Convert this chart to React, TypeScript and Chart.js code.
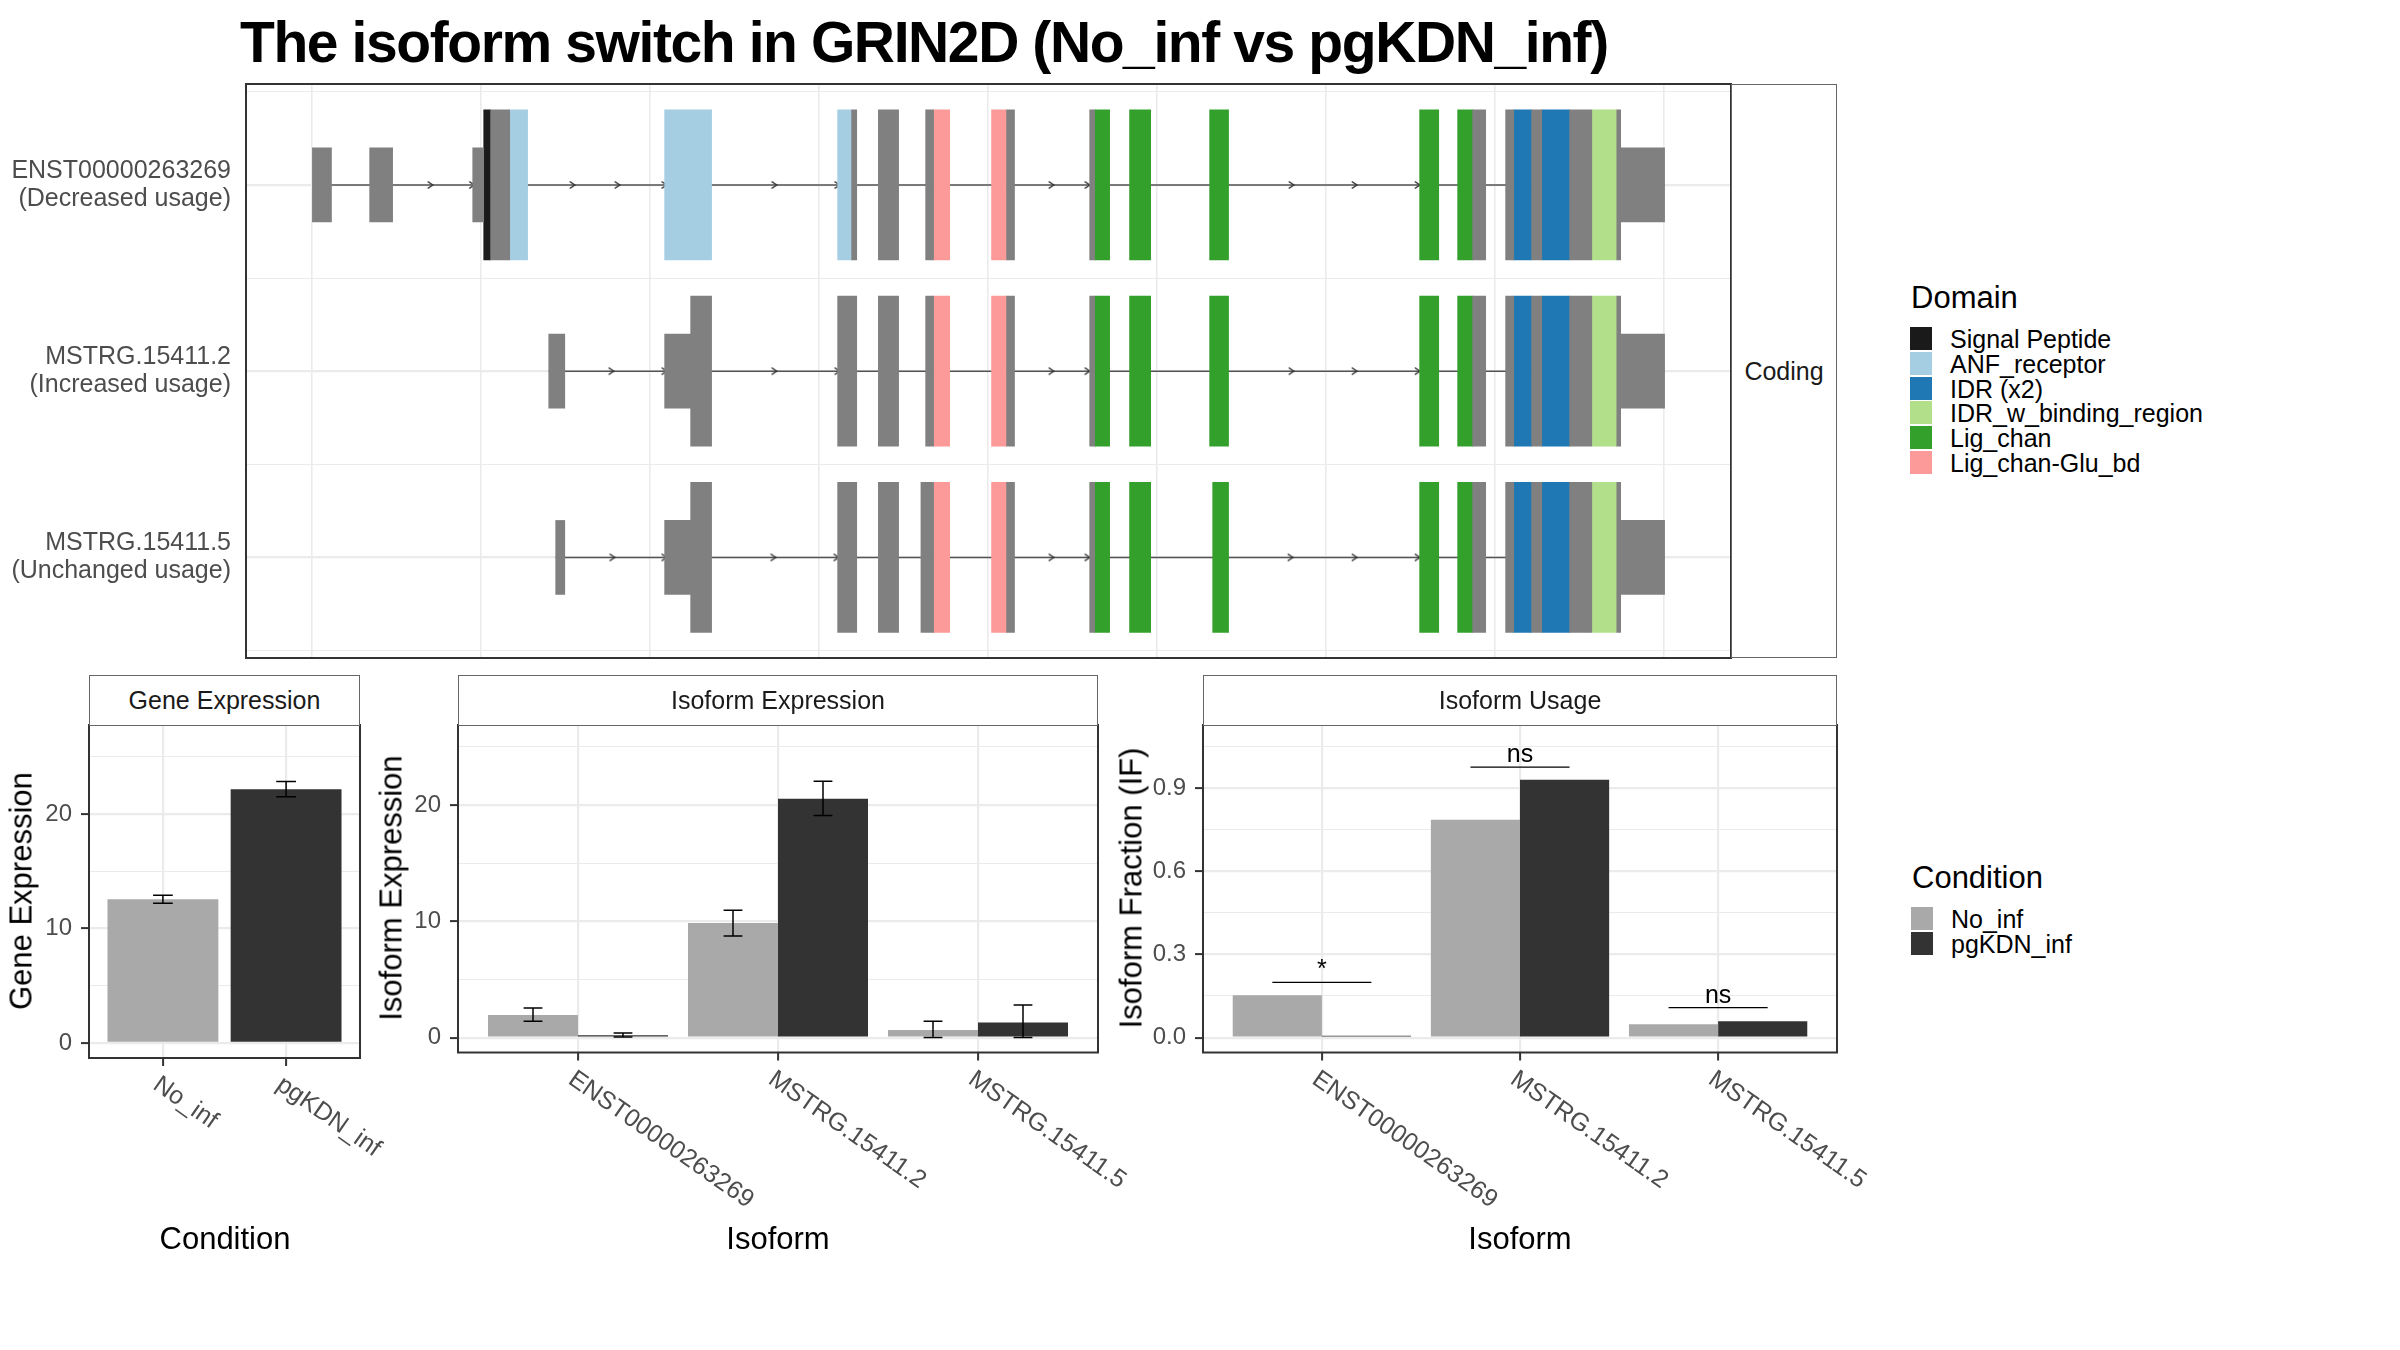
import React, { useEffect, useRef } from 'react';
import { Chart, registerables } from 'chart.js';

Chart.register(...registerables);

const FONT = "'Liberation Sans', Arial, Helvetica, sans-serif";
Chart.defaults.font.family = FONT;

// ---------------- Transcript structure (rescaled genomic coordinates) ----------------
const TX_IDS = ['ENST00000263269', 'MSTRG.15411.2', 'MSTRG.15411.5'];
const TX_NOTES = ['(Decreased usage)', '(Increased usage)', '(Unchanged usage)'];
const TX_ROWS = [1, 2, 3];

const UTR_SEGMENTS = [
  [[0.03, 1.16], [3.42, 4.78], [9.52, 10.17], [77.47, 80.07]],
  [[14.02, 14.97], [20.88, 22.42], [77.47, 80.07]],
  [[14.43, 14.97], [20.88, 22.42], [77.47, 80.07]],
];
const CDS_SEGMENTS = [
  [[10.58, 11.71], [31.95, 32.25], [33.53, 34.73], [36.33, 36.8], [41.12, 41.59], [46.04, 46.33], [68.71, 69.48], [70.66, 71.14], [72.2, 72.8], [74.45, 75.76], [77.24, 77.47]],
  [[22.42, 23.66], [31.12, 32.25], [33.53, 34.73], [36.33, 36.8], [41.12, 41.59], [46.04, 46.33], [68.71, 69.48], [70.66, 71.14], [72.2, 72.8], [74.45, 75.76], [77.24, 77.47]],
  [[22.42, 23.66], [31.12, 32.25], [33.53, 34.73], [36.05, 36.8], [41.12, 41.59], [46.04, 46.33], [68.71, 69.48], [70.66, 71.14], [72.2, 72.8], [74.45, 75.76], [77.24, 77.47]],
];
const SIGNAL_PEPTIDE = [[[10.17, 10.58]], [], []];
const ANF_RECEPTOR = [[[11.71, 12.77], [20.88, 23.66], [31.12, 31.95]], [], []];
const IDR_X2 = [
  [[71.14, 72.2], [72.8, 74.45]],
  [[71.14, 72.2], [72.8, 74.45]],
  [[71.14, 72.2], [72.8, 74.45]],
];
const IDR_BINDING = [[[75.76, 77.24]], [[75.76, 77.24]], [[75.76, 77.24]]];
const LIG_CHAN = [
  [[46.33, 47.22], [48.4, 49.65], [53.14, 54.26], [65.57, 66.7], [67.82, 68.71]],
  [[46.33, 47.22], [48.4, 49.65], [53.14, 54.26], [65.57, 66.7], [67.82, 68.71]],
  [[46.33, 47.22], [48.4, 49.65], [53.32, 54.26], [65.57, 66.7], [67.82, 68.71]],
];
const LIG_CHAN_GLU = [
  [[36.8, 37.75], [40.23, 41.12]],
  [[36.8, 37.75], [40.23, 41.12]],
  [[36.8, 37.75], [40.23, 41.12]],
];
const INTRON_SPANS = [[0.03, 80.07], [14.02, 80.07], [14.43, 80.07]];
const ARROWS = [
  [6.97, 9.43, 15.38, 18.04, 20.82, 27.33, 31.06, 43.73, 45.86, 57.94, 61.67, 65.4],
  [17.68, 20.82, 27.33, 31.06, 43.73, 45.86, 57.94, 61.67, 65.4],
  [17.74, 20.82, 27.27, 31.0, 43.73, 45.86, 57.88, 61.67, 65.4],
];

const DOMAIN_NAMES = ['Signal Peptide', 'ANF_receptor', 'IDR (x2)', 'IDR_w_binding_region', 'Lig_chan', 'Lig_chan-Glu_bd'];
const DOMAIN_COLORS = ['#1a1a1a', '#a6cee3', '#1f78b4', '#b2df8a', '#33a02c', '#fb9a99'];
const DOMAIN_SEGMENTS = [SIGNAL_PEPTIDE, ANF_RECEPTOR, IDR_X2, IDR_BINDING, LIG_CHAN, LIG_CHAN_GLU];
const EXON_GREY = '#808080';

// ---------------- Expression data ----------------
const CONDITIONS = ['No_inf', 'pgKDN_inf'];
const CONDITION_COLORS = ['#a9a9a9', '#333333'];

const GENE_EXP = [12.55, 22.16];
const GENE_EXP_LOW = [12.2, 21.5];
const GENE_EXP_HIGH = [12.9, 22.85];

const ISOFORMS = ['ENST00000263269', 'MSTRG.15411.2', 'MSTRG.15411.5'];
const ISO_EXP_NOINF = [1.95, 9.85, 0.65];
const ISO_EXP_NOINF_LOW = [1.4, 8.75, 0.0];
const ISO_EXP_NOINF_HIGH = [2.55, 10.95, 1.4];
const ISO_EXP_PGKDN = [0.2, 20.55, 1.3];
const ISO_EXP_PGKDN_LOW = [0.05, 19.1, 0.0];
const ISO_EXP_PGKDN_HIGH = [0.4, 22.05, 2.8];

const IF_NOINF = [0.153, 0.786, 0.048];
const IF_PGKDN = [0.007, 0.93, 0.059];
const SIG_Y = [0.199, 0.976, 0.108];
const SIG_LABELS = ['*', 'ns', 'ns'];

// ---------------- helpers ----------------
const GRID = '#ebebeb';
const TICK_TEXT = '#4d4d4d';

const fixAxis = (w: number | null, h: number | null) => (s: any) => {
  if (w !== null) s.width = w;
  if (h !== null) s.height = h;
  s.paddingTop = 0;
  s.paddingBottom = 0;
  s.paddingLeft = 0;
  s.paddingRight = 0;
};

const panelBorder = {
  id: 'panelBorder',
  afterDatasetsDraw(chart: any) {
    const { ctx, chartArea } = chart;
    ctx.save();
    ctx.strokeStyle = '#333333';
    ctx.lineWidth = 2;
    ctx.strokeRect(chartArea.left, chartArea.top, chartArea.right - chartArea.left, chartArea.bottom - chartArea.top);
    ctx.restore();
  },
};

const rotatedLabels = {
  id: 'rotatedLabels',
  afterDraw(chart: any, _args: any, opts: any) {
    if (!opts || !opts.labels) return;
    const xs = chart.scales.x;
    const ctx = chart.ctx;
    ctx.save();
    ctx.font = `${opts.size}px ${FONT}`;
    ctx.fillStyle = opts.color;
    ctx.textAlign = 'left';
    ctx.textBaseline = 'top';
    opts.labels.forEach((lab: string, i: number) => {
      const px = xs.getPixelForValue(i + 1);
      ctx.save();
      ctx.translate(px, chart.chartArea.bottom + opts.offset);
      ctx.rotate((opts.angle * Math.PI) / 180);
      ctx.fillText(lab, 0, 0);
      ctx.restore();
    });
    ctx.restore();
  },
};

const sigText = {
  id: 'sigText',
  afterDatasetsDraw(chart: any, _args: any, opts: any) {
    if (!opts || !opts.labels) return;
    const { ctx } = chart;
    const xs = chart.scales.x;
    const ys = chart.scales.y;
    ctx.save();
    ctx.font = `${opts.size}px ${FONT}`;
    ctx.fillStyle = '#000';
    ctx.textAlign = 'center';
    ctx.textBaseline = 'alphabetic';
    opts.labels.forEach((lab: string, i: number) => {
      ctx.fillText(lab, xs.getPixelForValue(i + 1), ys.getPixelForValue(opts.ys[i]) - 5);
    });
    ctx.restore();
  },
};

function segBars(segs: number[][][]) {
  return segs.flatMap((row, r) => row.map((s) => ({ x: s, y: TX_ROWS[r] })));
}

function errorPoints(xs: number[], lows: number[], highs: number[], cap: number) {
  const pts: any[] = [];
  xs.forEach((x, i) => {
    pts.push({ x: x - cap, y: lows[i] }, { x: x + cap, y: lows[i] }, { x: null, y: null });
    pts.push({ x, y: lows[i] }, { x, y: highs[i] }, { x: null, y: null });
    pts.push({ x: x - cap, y: highs[i] }, { x: x + cap, y: highs[i] }, { x: null, y: null });
  });
  return pts;
}

function makeChevron() {
  const c = document.createElement('canvas');
  c.width = 12;
  c.height = 12;
  const g = c.getContext('2d')!;
  g.strokeStyle = '#333';
  g.lineWidth = 1.5;
  g.beginPath();
  g.moveTo(4, 2.5);
  g.lineTo(9, 6);
  g.lineTo(4, 9.5);
  g.stroke();
  return c;
}

function ChartCanvas(props: { left: number; top: number; width: number; height: number; build: () => any }) {
  const ref = useRef<HTMLCanvasElement | null>(null);
  useEffect(() => {
    if (!ref.current) return;
    const chart = new Chart(ref.current, props.build());
    return () => chart.destroy();
  }, []);
  return (
    <canvas
      ref={ref}
      width={props.width}
      height={props.height}
      style={{ position: 'absolute', left: props.left, top: props.top, width: props.width, height: props.height }}
    />
  );
}

// ---------------- chart configs ----------------
function transcriptConfig() {
  const chevron = makeChevron();
  const barDs = (label: string, data: any[], color: string, thickness: number) => ({
    type: 'bar',
    label,
    data,
    backgroundColor: color,
    borderWidth: 0,
    barThickness: thickness,
    stack: 'tx',
    order: 0,
  });
  const datasets: any[] = [
    barDs('UTR', segBars(UTR_SEGMENTS), EXON_GREY, 74),
    barDs('CDS', segBars(CDS_SEGMENTS), EXON_GREY, 150),
    ...DOMAIN_NAMES.map((n, i) => barDs(n, segBars(DOMAIN_SEGMENTS[i]), DOMAIN_COLORS[i], 150)),
    {
      type: 'line',
      label: 'introns',
      data: INTRON_SPANS.flatMap((s, r) => [{ x: s[0], y: TX_ROWS[r] }, { x: s[1], y: TX_ROWS[r] }, { x: null, y: null }]),
      borderColor: '#555555',
      borderWidth: 1.6,
      pointRadius: 0,
      spanGaps: false,
      order: 3,
    },
    {
      type: 'line',
      label: 'direction',
      data: ARROWS.flatMap((row, r) => row.map((x) => ({ x, y: TX_ROWS[r] }))),
      showLine: false,
      pointStyle: chevron,
      pointRadius: 6,
      order: 2,
    },
  ];
  return {
    type: 'bar',
    data: { datasets },
    plugins: [panelBorder],
    options: {
      responsive: false,
      animation: false,
      devicePixelRatio: 1,
      indexAxis: 'y',
      layout: { padding: { top: 14, right: 19, left: 0, bottom: 0 } },
      plugins: { legend: { display: false }, tooltip: { enabled: false } },
      scales: {
        x: {
          type: 'linear',
          min: -3.9,
          max: 84,
          stacked: false,
          offset: false,
          ticks: { display: false, stepSize: 10, includeBounds: false },
          grid: { color: GRID, lineWidth: 1.6, drawTicks: false, offset: false },
          border: { display: false },
          afterFit: fixAxis(null, 12),
        },
        y: {
          type: 'linear',
          min: 0.458,
          max: 3.54,
          reverse: true,
          offset: false,
          ticks: {
            stepSize: 0.5,
            includeBounds: false,
            autoSkip: false,
            padding: 15,
            color: TICK_TEXT,
            font: { size: 25, lineHeight: 1.12 },
            callback: (v: number) => {
              const i = TX_ROWS.indexOf(v);
              return i >= 0 ? [TX_IDS[i], TX_NOTES[i]] : '';
            },
          },
          grid: {
            color: GRID,
            lineWidth: (c: any) => (c.tick && Number.isInteger(c.tick.value) ? 2.2 : 1.1),
            drawTicks: false,
            offset: false,
          },
          border: { display: false },
          afterFit: fixAxis(246, null),
        },
      },
    },
  };
}

function yAxis(min: number, max: number, step: number, isMajor: (v: number) => boolean, fmt: (v: number) => string, width: number) {
  return {
    type: 'linear',
    min,
    max,
    offset: false,
    ticks: {
      stepSize: step,
      includeBounds: false,
      autoSkip: false,
      padding: 9,
      color: TICK_TEXT,
      font: { size: 24 },
      callback: (v: number) => (isMajor(v) ? fmt(v) : ''),
    },
    grid: {
      color: GRID,
      lineWidth: (c: any) => (c.tick && isMajor(c.tick.value) ? 2.2 : 1.1),
      tickColor: (c: any) => (c.tick && isMajor(c.tick.value) ? '#333333' : 'rgba(0,0,0,0)'),
      tickLength: 8,
      tickWidth: 2,
    },
    border: { display: false },
    afterFit: fixAxis(width, null),
  };
}

function xAxis(n: number, height: number) {
  return {
    type: 'linear',
    min: 0.4,
    max: n + 0.6,
    offset: false,
    ticks: { display: false, stepSize: 1, includeBounds: false, autoSkip: false },
    grid: { color: GRID, lineWidth: 2.2, tickColor: '#333333', tickLength: 8, tickWidth: 2, offset: false },
    border: { display: false },
    afterFit: fixAxis(null, height),
  };
}

const baseOpts = (padding: any) => ({
  responsive: false,
  animation: false,
  devicePixelRatio: 1,
  layout: { padding },
});

function geneConfig() {
  const xs = CONDITIONS.map((_, i) => i + 1);
  return {
    type: 'bar',
    data: {
      datasets: [
        {
          type: 'bar',
          label: 'Gene Expression',
          data: xs.map((x, i) => ({ x, y: GENE_EXP[i] })),
          backgroundColor: CONDITION_COLORS,
          borderWidth: 0,
          categoryPercentage: 0.9,
          barPercentage: 1,
          order: 1,
        },
        {
          type: 'line',
          label: 'err',
          data: errorPoints(xs, GENE_EXP_LOW, GENE_EXP_HIGH, 0.08),
          borderColor: '#000',
          borderWidth: 1.5,
          pointRadius: 0,
          spanGaps: false,
          order: 0,
        },
      ],
    },
    plugins: [panelBorder, rotatedLabels],
    options: {
      ...baseOpts({ top: 15, right: 60, left: 0, bottom: 0 }),
      plugins: {
        legend: { display: false },
        tooltip: { enabled: false },
        rotatedLabels: { labels: CONDITIONS, angle: 35, size: 25, color: TICK_TEXT, offset: 14 },
      },
      scales: {
        x: xAxis(CONDITIONS.length, 172),
        y: yAxis(-1.32, 27.78, 5, (v) => v % 10 === 0, (v) => String(v), 89),
      },
    },
  };
}

function isoExpConfig() {
  const xs = ISOFORMS.map((_, i) => i + 1);
  const off = 0.225;
  return {
    type: 'bar',
    data: {
      datasets: [
        {
          type: 'bar',
          label: CONDITIONS[0],
          data: xs.map((x, i) => ({ x, y: ISO_EXP_NOINF[i] })),
          backgroundColor: CONDITION_COLORS[0],
          borderWidth: 0,
          categoryPercentage: 0.9,
          barPercentage: 1,
          order: 1,
        },
        {
          type: 'bar',
          label: CONDITIONS[1],
          data: xs.map((x, i) => ({ x, y: ISO_EXP_PGKDN[i] })),
          backgroundColor: CONDITION_COLORS[1],
          borderWidth: 0,
          categoryPercentage: 0.9,
          barPercentage: 1,
          order: 1,
        },
        {
          type: 'line',
          label: 'err',
          data: [
            ...errorPoints(xs.map((x) => x - off), ISO_EXP_NOINF_LOW, ISO_EXP_NOINF_HIGH, 0.047),
            ...errorPoints(xs.map((x) => x + off), ISO_EXP_PGKDN_LOW, ISO_EXP_PGKDN_HIGH, 0.047),
          ],
          borderColor: '#000',
          borderWidth: 1.5,
          pointRadius: 0,
          spanGaps: false,
          order: 0,
        },
      ],
    },
    plugins: [panelBorder, rotatedLabels],
    options: {
      ...baseOpts({ top: 15, right: 62, left: 0, bottom: 0 }),
      plugins: {
        legend: { display: false },
        tooltip: { enabled: false },
        rotatedLabels: { labels: ISOFORMS, angle: 35, size: 25, color: TICK_TEXT, offset: 14 },
      },
      scales: {
        x: xAxis(ISOFORMS.length, 177.5),
        y: yAxis(-1.28, 26.89, 5, (v) => v % 10 === 0, (v) => String(v), 78),
      },
    },
  };
}

function usageConfig() {
  const xs = ISOFORMS.map((_, i) => i + 1);
  const isMajor = (v: number) => Math.abs(v / 0.3 - Math.round(v / 0.3)) < 1e-6;
  return {
    type: 'bar',
    data: {
      datasets: [
        {
          type: 'bar',
          label: CONDITIONS[0],
          data: xs.map((x, i) => ({ x, y: IF_NOINF[i] })),
          backgroundColor: CONDITION_COLORS[0],
          borderWidth: 0,
          categoryPercentage: 0.9,
          barPercentage: 1,
          order: 1,
        },
        {
          type: 'bar',
          label: CONDITIONS[1],
          data: xs.map((x, i) => ({ x, y: IF_PGKDN[i] })),
          backgroundColor: CONDITION_COLORS[1],
          borderWidth: 0,
          categoryPercentage: 0.9,
          barPercentage: 1,
          order: 1,
        },
        {
          type: 'line',
          label: 'sig',
          data: xs.flatMap((x, i) => [{ x: x - 0.25, y: SIG_Y[i] }, { x: x + 0.25, y: SIG_Y[i] }, { x: null, y: null }]),
          borderColor: '#000',
          borderWidth: 1.2,
          pointRadius: 0,
          spanGaps: false,
          order: 0,
        },
      ],
    },
    plugins: [panelBorder, rotatedLabels, sigText],
    options: {
      ...baseOpts({ top: 15, right: 73, left: 0, bottom: 0 }),
      plugins: {
        legend: { display: false },
        tooltip: { enabled: false },
        rotatedLabels: { labels: ISOFORMS, angle: 35, size: 25, color: TICK_TEXT, offset: 14 },
        sigText: { labels: SIG_LABELS, ys: SIG_Y, size: 25 },
      },
      scales: {
        x: xAxis(ISOFORMS.length, 177.5),
        y: yAxis(-0.0537, 1.128, 0.15, isMajor, (v) => v.toFixed(1), 93),
      },
    },
  };
}

// ---------------- text helpers ----------------
function Txt(props: { x: number; y: number; size: number; children: any; color?: string; bold?: boolean; align?: 'left' | 'center'; rotate?: number; spacing?: number }) {
  const tx = props.align === 'left' ? '0' : '-50%';
  return (
    <div
      style={{
        position: 'absolute',
        left: props.x,
        top: props.y,
        transform: `translate(${tx}, -50%) rotate(${props.rotate || 0}deg)`,
        fontSize: props.size,
        lineHeight: 1,
        fontWeight: props.bold ? 700 : 400,
        color: props.color || '#000',
        whiteSpace: 'nowrap',
        letterSpacing: props.spacing || 0,
      }}
    >
      {props.children}
    </div>
  );
}

function Strip(props: { left: number; top: number; width: number; height: number; label: string }) {
  return (
    <div
      style={{
        position: 'absolute',
        left: props.left,
        top: props.top,
        width: props.width,
        height: props.height,
        border: '1.5px solid #666',
        boxSizing: 'border-box',
        background: '#fff',
        display: 'flex',
        alignItems: 'center',
        justifyContent: 'center',
        fontSize: 25,
        color: '#1a1a1a',
      }}
    >
      {props.label}
    </div>
  );
}

function Legend(props: { x: number; y: number; title: string; names: string[]; colors: string[] }) {
  return (
    <>
      <Txt x={props.x} y={props.y} size={31} align="left">
        {props.title}
      </Txt>
      {props.names.map((n, i) => (
        <React.Fragment key={n}>
          <div
            style={{
              position: 'absolute',
              left: props.x - 1,
              top: props.y + 30 + i * 24.8,
              width: 22,
              height: 23,
              background: props.colors[i],
            }}
          />
          <Txt x={props.x + 39} y={props.y + 42 + i * 24.8} size={25} align="left">
            {n}
          </Txt>
        </React.Fragment>
      ))}
    </>
  );
}

export default function App() {
  return (
    <div
      style={{
        position: 'fixed',
        left: 0,
        top: 0,
        width: 2400,
        height: 1350,
        background: '#fff',
        fontFamily: FONT,
        overflow: 'hidden',
      }}
    >
      <div
        style={{
          position: 'absolute',
          left: 240,
          top: 14,
          fontSize: 57,
          lineHeight: 1,
          fontWeight: 700,
          letterSpacing: -1.4,
          whiteSpace: 'nowrap',
          color: '#000',
        }}
      >
        The isoform switch in GRIN2D (No_inf vs pgKDN_inf)
      </div>

      <ChartCanvas left={0} top={70} width={1750} height={600} build={transcriptConfig} />
      <Strip left={1731} top={84} width={106} height={574} label="Coding" />

      <Legend x={1911} y={297} title="Domain" names={DOMAIN_NAMES} colors={DOMAIN_COLORS} />
      <Legend x={1912} y={877} title="Condition" names={CONDITIONS} colors={CONDITION_COLORS} />

      <ChartCanvas left={0} top={710} width={420} height={520} build={geneConfig} />
      <ChartCanvas left={380} top={710} width={780} height={520} build={isoExpConfig} />
      <ChartCanvas left={1110} top={710} width={800} height={520} build={usageConfig} />

      <Strip left={89} top={675} width={271} height={51} label="Gene Expression" />
      <Strip left={458} top={675} width={640} height={51} label="Isoform Expression" />
      <Strip left={1203} top={675} width={634} height={51} label="Isoform Usage" />

      <Txt x={21} y={891} size={31} rotate={-90}>Gene Expression</Txt>
      <Txt x={391} y={888} size={31} rotate={-90}>Isoform Expression</Txt>
      <Txt x={1131} y={888} size={31} rotate={-90}>Isoform Fraction (IF)</Txt>

      <Txt x={225} y={1238} size={31}>Condition</Txt>
      <Txt x={778} y={1238} size={31}>Isoform</Txt>
      <Txt x={1520} y={1238} size={31}>Isoform</Txt>
    </div>
  );
}
